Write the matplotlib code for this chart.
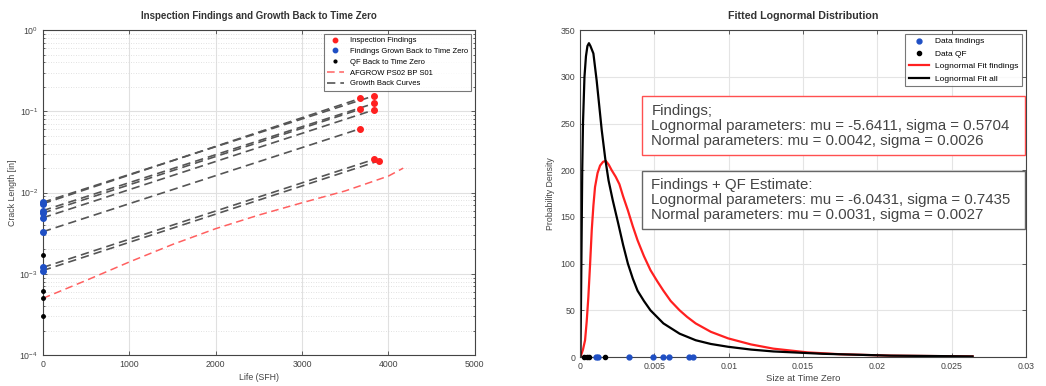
import matplotlib
matplotlib.use("Agg")
import matplotlib.pyplot as plt
from matplotlib.patches import Rectangle
from matplotlib.ticker import LogLocator, NullFormatter

plt.rcParams['font.family'] = ['Liberation Sans', 'DejaVu Sans']
plt.rcParams['mathtext.fontset'] = 'custom'
plt.rcParams['mathtext.rm'] = 'Liberation Sans'

# ---- left panel data ----
find_life = [3670, 3830, 3830, 3670, 3830, 3670, 3830, 3890]
find_size = [0.144, 0.155, 0.125, 0.106, 0.104, 0.061, 0.0256, 0.0246]
zero_size = [0.0073, 0.0076, 0.0060, 0.0056, 0.0049, 0.0033, 0.0012, 0.0011]
qf_size = [0.0003, 0.0005, 0.00062, 0.0017]
afgrow_life = [0, 500, 1000, 1500, 2000, 2500, 3000, 3500, 3800, 4000, 4170]
afgrow_size = [0.0005, 0.00083, 0.0014, 0.0023, 0.0036, 0.0053, 0.0075, 0.0105, 0.0135, 0.016, 0.02]

# ---- right panel data ----
fit_find_x = [0.00003, 0.0002, 0.00034, 0.00045, 0.00056, 0.00068, 0.00079, 0.0009,
              0.00101, 0.00118, 0.00135, 0.00155, 0.00173, 0.00193, 0.00213, 0.0024,
              0.00265, 0.0029, 0.00322, 0.00355, 0.00387, 0.0043, 0.00474, 0.0052,
              0.00561, 0.0061, 0.0067, 0.0072, 0.00778, 0.0088, 0.00996, 0.0115,
              0.013, 0.0153, 0.0175, 0.0209, 0.0264]
fit_find_y = [0, 8, 18, 38, 64, 100, 136, 162, 182, 197, 205, 209, 210, 206, 200, 193,
              185, 172, 157, 140, 125, 108, 93, 81, 71, 60, 50, 43, 36, 27, 20, 13.5,
              9, 5, 3, 1.5, 0.7]
fit_all_x = [0.00003, 0.00008, 0.00015, 0.0002, 0.0003, 0.0004, 0.0005, 0.0006, 0.0007,
             0.0009, 0.00112, 0.0013, 0.00146, 0.0017, 0.00192, 0.0022, 0.00257, 0.0029,
             0.00322, 0.00355, 0.00387, 0.0043, 0.00474, 0.00561, 0.0067, 0.00778,
             0.0088, 0.00996, 0.0115, 0.013, 0.0163, 0.0209, 0.0264]
fit_all_y = [0, 80, 200, 250, 300, 322, 333, 336, 333, 325, 296, 268, 243, 212, 189,
             168, 143, 120, 100, 84, 71, 60, 50, 36, 25, 18, 14, 11, 8, 6, 3.5, 1.5, 0.7]

text_find = ("Findings;\n"
             "Lognormal parameters: mu = -5.6411, sigma = 0.5704\n"
             "Normal parameters: mu = 0.0042, sigma = 0.0026")
text_all = ("Findings + QF Estimate:\n"
            "Lognormal parameters: mu = -6.0431, sigma = 0.7435\n"
            "Normal parameters: mu = 0.0031, sigma = 0.0027")

blue = '#1f4fc4'
red = '#ff2020'
small = 6.3

fig = plt.figure(figsize=(10.46, 3.86), dpi=100)
ax1 = fig.add_axes([0.041, 0.080, 0.413, 0.842])
ax2 = fig.add_axes([0.5545, 0.075, 0.4265, 0.847])

# ---------- left ----------
for i in range(len(find_life)):
    ax1.plot([0, find_life[i]], [zero_size[i], find_size[i]], color='#555555',
             ls=(0, (5, 3)), lw=1.2, label='Growth Back Curves' if i == 0 else None, zorder=2)
ax1.plot(afgrow_life, afgrow_size, color='#ff6060', ls=(0, (5, 3)), lw=1.1,
         label='AFGROW PS02 BP S01', zorder=2)
ax1.plot(find_life, find_size, 'o', color=red, ms=4, ls='none', label='Inspection Findings', zorder=3)
ax1.plot([0] * len(zero_size), zero_size, 'o', color=blue, ms=4, ls='none',
         label='Findings Grown Back to Time Zero', zorder=3, clip_on=False)
ax1.plot([0] * len(qf_size), qf_size, 'o', color='black', ms=2.5, ls='none',
         label='QF Back to Time Zero', zorder=3, clip_on=False)

ax1.set_yscale('log')
ax1.set_xlim(0, 5000)
ax1.set_ylim(1e-4, 1)
ax1.set_xticks([0, 1000, 2000, 3000, 4000, 5000])
ax1.yaxis.set_major_locator(LogLocator(base=10, numticks=10))
ax1.yaxis.set_minor_locator(LogLocator(base=10, subs=range(2, 10), numticks=10))
ax1.yaxis.set_minor_formatter(NullFormatter())
ax1.grid(True, which='major', color='#e0e0e0', lw=0.8)
ax1.grid(True, which='minor', axis='y', color='#d8d8d8', lw=0.6, ls=(0, (1, 2)))
ax1.set_title('Inspection Findings and Growth Back to Time Zero', fontsize=7.0,
              fontweight='bold', color='#333333', pad=8)
ax1.set_xlabel('Life (SFH)', fontsize=small, color='#444444', labelpad=3)
ax1.set_ylabel('Crack Length [in]', fontsize=small, color='#444444', labelpad=2)

handles, labels = ax1.get_legend_handles_labels()
order = ['Inspection Findings', 'Findings Grown Back to Time Zero', 'QF Back to Time Zero',
         'AFGROW PS02 BP S01', 'Growth Back Curves']
hmap = dict(zip(labels, handles))
leg1 = ax1.legend([hmap[k] for k in order], order, loc='upper right', fontsize=5.5,
                  frameon=True, fancybox=False, edgecolor='#555555', borderaxespad=0.45,
                  handlelength=2.2, labelspacing=0.45, borderpad=0.45, markerscale=0.8)
leg1.get_frame().set_linewidth(0.8)

# ---------- right ----------
ax2.plot(fit_find_x, fit_find_y, color=red, lw=1.6, label='Lognormal Fit findings', zorder=2)
ax2.plot(fit_all_x, fit_all_y, color='black', lw=1.6, label='Lognormal Fit all', zorder=2)
ax2.plot(zero_size, [0] * len(zero_size), 'o', color=blue, ms=3.5, ls='none',
         label='Data findings', zorder=3, clip_on=False)
ax2.plot(qf_size, [0] * len(qf_size), 'o', color='black', ms=3, ls='none',
         label='Data QF', zorder=3, clip_on=False)

ax2.set_xlim(0, 0.03)
ax2.set_ylim(0, 350)
ax2.set_xticks([0, 0.005, 0.01, 0.015, 0.02, 0.025, 0.03])
ax2.set_xticklabels(['0', '0.005', '0.01', '0.015', '0.02', '0.025', '0.03'])
ax2.set_yticks(range(0, 351, 50))
ax2.grid(True, color='#e4e4e4', lw=0.8)
ax2.set_title('Fitted Lognormal Distribution', fontsize=7.7, fontweight='bold',
              color='#333333', pad=8)
ax2.set_xlabel('Size at Time Zero', fontsize=small + 0.5, color='#444444', labelpad=2)
ax2.set_ylabel('Probability Density', fontsize=small, color='#444444', labelpad=4)

handles, labels = ax2.get_legend_handles_labels()
order2 = ['Data findings', 'Data QF', 'Lognormal Fit findings', 'Lognormal Fit all']
hmap2 = dict(zip(labels, handles))
leg2 = ax2.legend([hmap2[k] for k in order2], order2, loc='upper right', fontsize=small - 0.3,
                  frameon=True, fancybox=False, edgecolor='#555555', borderaxespad=0.45,
                  handlelength=2.4, labelspacing=0.55, borderpad=0.45)
leg2.get_frame().set_linewidth(0.8)

# text boxes
ax2.add_patch(Rectangle((0.0042, 216), 0.0257, 63, fc='white', ec='#ff5050', lw=1.0, zorder=4))
ax2.text(0.0048, 247.5, text_find, fontsize=10.8, color='#444444', va='center', ha='left',
         linespacing=1.12, zorder=5)
ax2.add_patch(Rectangle((0.0042, 137), 0.0257, 62, fc='white', ec='#666666', lw=1.0, zorder=4))
ax2.text(0.0048, 168, text_all, fontsize=10.8, color='#444444', va='center', ha='left',
         linespacing=1.12, zorder=5)

for ax in (ax1, ax2):
    ax.tick_params(which='both', direction='in', top=True, right=True, labelsize=small,
                   colors='#444444', length=3, width=0.6)
    ax.tick_params(which='minor', length=1.5)
    for s in ax.spines.values():
        s.set_color('#444444')
        s.set_linewidth(0.8)
    ax.set_axisbelow(True)

fig.savefig('out.png', dpi=100, facecolor='white')
